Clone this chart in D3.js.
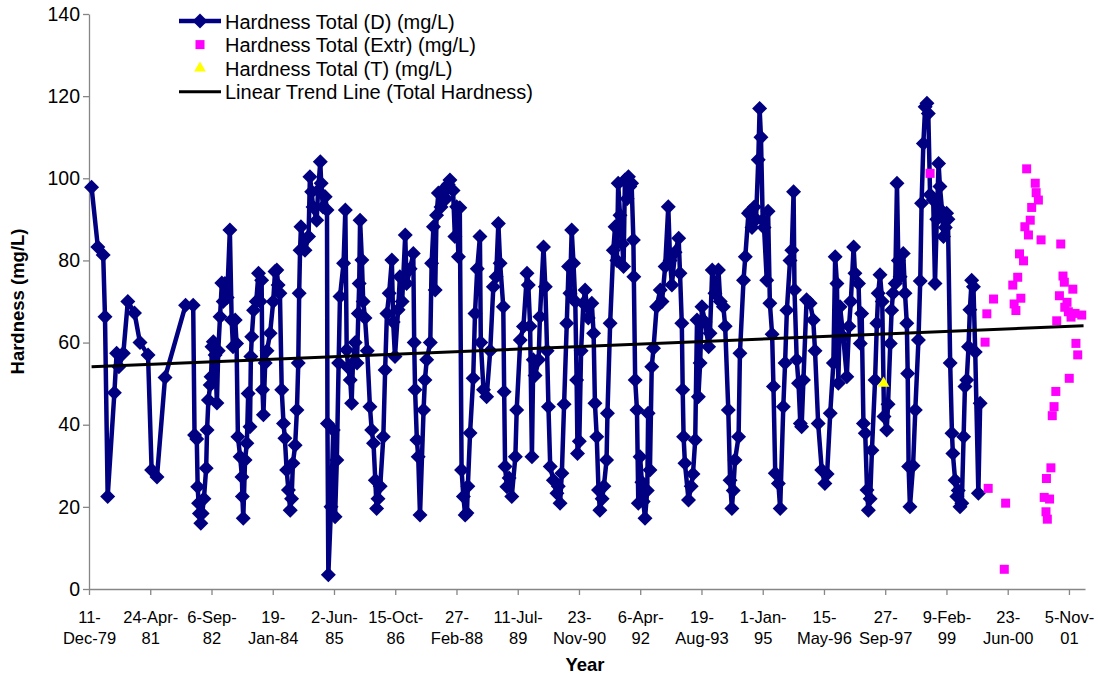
<!DOCTYPE html>
<html>
<head>
<meta charset="utf-8">
<script src="https://cdn.jsdelivr.net/npm/d3@7"></script>
<style>
  body { margin: 0; background: #fff; }
  text { font-family: "Liberation Sans", Arial, sans-serif; }
</style>
</head>
<body>
<div id="chart"></div>
<script>
// sample dates as decimal years, values in mg/L
const dYears = [
  1980.00,1980.14,1980.26,1980.30,1980.36,1980.51,1980.56,1980.61,1980.71,1980.81,1980.96,1981.08,1981.26,1981.34,1981.46,1981.64,
  1982.10,1982.27,1982.30,1982.35,1982.37,1982.39,1982.41,1982.44,1982.47,1982.51,1982.56,1982.58,1982.61,1982.65,1982.67,1982.69,
  1982.72,1982.76,1982.80,1982.83,1982.87,1982.91,1982.94,1982.98,1983.03,1983.09,1983.13,1983.16,1983.21,1983.24,1983.27,1983.32,
  1983.36,1983.37,1983.39,1983.43,1983.47,1983.50,1983.54,1983.56,1983.58,1983.62,1983.68,1983.73,1983.77,1983.80,1983.82,1983.84,
  1983.88,1983.92,1983.99,1984.06,1984.10,1984.14,1984.17,1984.21,1984.25,1984.29,1984.32,1984.36,1984.40,1984.44,1984.47,1984.50,
  1984.55,1984.59,1984.62,1984.64,1984.66,1984.68,1984.77,1984.85,1984.88,1984.92,1984.95,1985.03,1985.06,1985.11,1985.13,1985.17,
  1985.22,1985.26,1985.27,1985.29,1985.35,1985.40,1985.44,1985.48,1985.52,1985.55,1985.63,1985.67,1985.70,1985.73,1985.78,1985.81,
  1985.84,1985.89,1985.93,1985.96,1985.98,1986.00,1986.04,1986.07,1986.11,1986.16,1986.22,1986.26,1986.30,1986.34,1986.37,1986.40,
  1986.45,1986.52,1986.56,1986.60,1986.65,1986.71,1986.74,1986.78,1986.85,1986.89,1986.94,1987.01,1987.04,1987.12,1987.19,1987.21,
  1987.23,1987.27,1987.30,1987.34,1987.42,1987.45,1987.49,1987.57,1987.60,1987.64,1987.68,1987.71,1987.75,1987.81,1987.86,1987.92,
  1987.97,1988.01,1988.08,1988.12,1988.16,1988.20,1988.23,1988.27,1988.31,1988.35,1988.39,1988.41,1988.46,1988.53,1988.57,1988.62,
  1988.68,1988.70,1988.76,1988.83,1988.91,1988.98,1989.04,1989.09,1989.13,1989.20,1989.22,1989.24,1989.28,1989.33,1989.39,1989.47,
  1989.50,1989.58,1989.65,1989.73,1989.76,1989.80,1989.84,1989.87,1989.91,1989.99,1990.02,1990.10,1990.14,1990.18,1990.21,1990.25,
  1990.32,1990.40,1990.43,1990.47,1990.51,1990.56,1990.62,1990.66,1990.69,1990.73,1990.77,1990.81,1990.84,1990.86,1990.90,1990.94,
  1990.99,1991.03,1991.10,1991.18,1991.22,1991.25,1991.29,1991.33,1991.36,1991.41,1991.45,1991.51,1991.53,1991.59,1991.66,1991.70,
  1991.74,1991.77,1991.81,1991.86,1991.89,1991.92,1991.97,1992.00,1992.03,1992.07,1992.11,1992.12,1992.15,1992.19,1992.22,1992.26,
  1992.30,1992.33,1992.37,1992.42,1992.44,1992.48,1992.52,1992.56,1992.63,1992.71,1992.75,1992.82,1992.89,1992.93,1992.97,1993.04,
  1993.12,1993.15,1993.19,1993.21,1993.23,1993.26,1993.34,1993.40,1993.44,1993.49,1993.53,1993.56,1993.60,1993.64,1993.71,1993.79,
  1993.82,1993.87,1993.93,1994.01,1994.05,1994.12,1994.16,1994.23,1994.27,1994.31,1994.34,1994.38,1994.46,1994.49,1994.57,1994.61,
  1994.68,1994.72,1994.76,1994.81,1994.85,1994.90,1994.93,1994.96,1995.00,1995.03,1995.09,1995.12,1995.16,1995.21,1995.24,1995.28,
  1995.35,1995.39,1995.46,1995.50,1995.54,1995.61,1995.65,1995.69,1995.71,1995.76,1995.80,1995.84,1995.87,1995.91,1995.98,1996.06,
  1996.13,1996.17,1996.24,1996.32,1996.39,1996.44,1996.51,1996.58,1996.62,1996.66,1996.69,1996.73,1996.80,1996.88,1996.93,1996.97,
  1997.03,1997.06,1997.14,1997.18,1997.21,1997.25,1997.29,1997.33,1997.36,1997.40,1997.44,1997.51,1997.55,1997.58,1997.62,1997.67,
  1997.71,1997.77,1997.80,1997.85,1997.88,1997.91,1997.96,1998.00,1998.03,1998.07,1998.14,1998.18,1998.22,1998.24,1998.26,1998.29,
  1998.36,1998.41,1998.48,1998.52,1998.55,1998.59,1998.63,1998.67,1998.70,1998.74,1998.81,1998.85,1998.89,1998.93,1998.96,1999.01,
  1999.04,1999.08,1999.11,1999.14,1999.19,1999.23,1999.25,1999.30,1999.34,1999.37,1999.41,1999.45,1999.49,1999.52,1999.56,1999.60,
  1999.63,1999.67,1999.71,1999.75,1999.82,1999.86
];
const dValues = [
  97.8,83.3,81.3,66.3,22.5,47.8,57.4,54.1,57.4,70,67.2,60,57,29,27.3,51.5,
  69.1,69.1,37.5,36.5,24.9,20.9,18.4,16,18.4,22,29.4,38.7,46,49.7,51.7,59,
  60.2,57,45.3,58,66.3,74.5,70,74.4,71,87.4,65.5,59,65.5,59.8,37.1,32.2,
  27.3,22.5,17.2,31.4,35.5,47.6,39.5,56.6,61.4,67.9,70,76.9,70,75.2,48.5,42.4,
  55,58,62.3,70,77.3,77.7,74,72,48.5,40.3,36.7,29,24.1,19.2,22,30.6,
  35,43.6,55,72,82.5,88.2,82.5,85.8,100.4,96.7,93,89.8,97,104,98.8,93,
  95.5,92.3,40.3,3.5,20,38.7,17.6,31.4,55,71.2,79.3,92.3,58.2,54,50.9,45.2,
  55,60,55,67.1,74.4,89.8,80.1,70,66,58,44.4,38.7,35.5,26.5,19.6,22,
  25,37.1,53.3,67.1,72,80.1,65,56.6,68,76,70,86.2,74.4,78,81.7,60,
  48.5,36.3,32.2,18,43.6,50.9,55.8,60,79.3,88.2,72.8,91,96.4,93,97.2,95,
  98.5,99.6,97,85.8,93.1,80.9,92.8,29,22.5,18,18.5,25,38,51.3,67.1,78,
  85.8,60,48.5,46.8,58,73.6,76,89,79.3,68.7,48,29.8,24.9,27,22.5,32.2,
  43.6,60.6,63.9,76.9,74,64,32.2,55.8,52,55.8,66.3,83.3,73.6,58,44.4,29.8,
  26.5,23.3,25,20.9,28.2,45,64.7,78.5,72,87.4,79.3,70,50.9,33,36,58,
  69.6,72.8,66,69.6,62.3,45.2,37.1,24.1,19.2,22,25,31.4,42.8,64.7,82.5,88.2,
  80,98.8,91,84,78.5,99.6,95,100.4,98,98.8,85,76,50.9,43.6,20.9,32.2,
  26,21.3,17.2,24,42.8,29,54.1,58.6,68.7,72.8,70,78.5,93.1,80,74,82,
  85.4,76.9,64.7,48.5,37.1,30.6,21.7,25,28,36.3,65.5,46.8,55,68.7,65,59,
  62.3,77.7,72,77.7,70,68.7,64,43.6,26.5,19.6,24,31.4,37.1,57.4,75.2,80.9,
  91.5,92,88,93,90,104.5,117,110,89.8,88,75.2,92,69.6,62,49.3,28.2,
  25.7,19.6,44.4,55,67.9,80,82.5,96.7,72.8,55.8,50.1,40.3,39.5,50.9,70.4,69.6,
  65.5,58,40.3,29,25.7,28,42.8,55,80.9,74.4,50.1,68.7,61.4,51.7,64,70,
  83.3,76.9,74.4,59.8,67.1,40.3,37.9,24.1,19.2,22,33.8,50.9,64.7,72,76.5,70,
  42,38.7,45,59.8,67.9,72,74.4,98.8,80,76,81.7,72,64.7,52.5,29.8,20,
  30,43.6,60.6,75,93.9,108.5,117.4,118.3,115.8,96,94.7,74.4,90,103.6,98,92,
  85.8,88,91.5,90,55,37.9,33,26.5,22.5,24,20,20.9,37.1,49.3,50.9,59,
  68,75.2,73.6,57.7,23.3,45.2
];
const extrYears = [
  1998.74,1999.97,2000.01,2000.04,2000.16,2000.40,2000.43,2000.59,2000.62,2000.66,2000.70,2000.74,2000.77,2000.83,2000.86,2000.90,
  2000.94,2000.98,2001.01,2001.09,2001.11,2001.16,2001.22,2001.29,2001.33,2001.34,2001.36,2001.41,2001.44,2001.47,2001.51,2001.55,
  2001.57,2001.63,2001.66,2001.71,2001.74,2001.75,2001.80,2001.83,2001.85,2001.89,2001.93,2001.98,2002.00,2002.04,2002.13
];
const extrValues = [
  101.2,60.1,67,24.5,70.6,4.8,20.9,74,69.4,67.8,75.9,81.6,70.8,79.9,88.2,102.3,
  86.2,89.8,92.9,98.8,96.5,94.7,85,22.3,18.8,26.9,17,21.9,29.5,42.2,44.4,48.1,
  65.3,71.4,84,76.2,74.7,68.6,69.8,67.5,51.3,66.2,73,67.1,59.8,57,66.7
];
const tYears = [1997.70];
const tValues = [50.1];
const trendYears = [1980.00, 2002.17];
const trendValues = [54.1, 64.1];

const yTicks = [0, 20, 40, 60, 80, 100, 120, 140];
const tickLabels = [
  ["11-", "Dec-79"], ["24-Apr-", "81"], ["6-Sep-", "82"], ["19-", "Jan-84"], ["2-Jun-", "85"],
  ["15-Oct-", "86"], ["27-", "Feb-88"], ["11-Jul-", "89"], ["23-", "Nov-90"], ["6-Apr-", "92"],
  ["19-", "Aug-93"], ["1-Jan-", "95"], ["15-", "May-96"], ["27-", "Sep-97"], ["9-Feb-", "99"],
  ["23-", "Jun-00"], ["5-Nov-", "01"]
];
const legendLabels = [
  "Hardness Total (D) (mg/L)",
  "Hardness Total (Extr) (mg/L)",
  "Hardness Total (T) (mg/L)",
  "Linear Trend Line (Total Hardness)"
];

const width = 1098;
const height = 679;
const margin = { top: 14, right: 13, bottom: 90, left: 89 };
const navy = "#000080", magenta = "#ff00ff", yellow = "#ffff00", axisGrey = "#868686";

function fromYear(v) {
    const yr = Math.floor(v);
    return new Date(Date.UTC(yr, 0, 1) + (v - yr) * 365.25 * 864e5);
}
const parseTick = d3.utcParse("%d-%b-%y");
const tickDates = tickLabels.map(l => parseTick(l.join("")));

const svg = d3.select("#chart").append("svg")
    .attr("width", width)
    .attr("height", height);

const x = d3.scaleUtc()
    .domain([tickDates[0], new Date(Date.UTC(2002, 2, 16))])
    .range([margin.left, width - margin.right]);
const y = d3.scaleLinear().domain([0, 140]).range([height - margin.bottom, margin.top]);

// axes
const gX = svg.append("g").attr("transform", `translate(0,${height - margin.bottom})`)
    .call(d3.axisBottom(x).tickValues(tickDates).tickSize(6).tickSizeOuter(0).tickFormat(""));
gX.selectAll(".tick text").each(function(d, i) {
    const t = d3.select(this).text(null).attr("y", 0).attr("dy", null)
        .attr("font-size", "16.5px").attr("fill", "#000");
    tickLabels[i].forEach((s, j) => t.append("tspan").attr("x", 0).attr("y", 34 + j * 21).text(s));
});

const gY = svg.append("g").attr("transform", `translate(${margin.left},0)`)
    .call(d3.axisLeft(y).tickValues(yTicks).tickSize(6).tickSizeOuter(0).tickPadding(3));
gY.selectAll("text").attr("font-size", "19.5px").attr("fill", "#000");

svg.selectAll(".domain, .tick line").attr("stroke", axisGrey).attr("stroke-width", 1.3);

svg.append("text").attr("transform", `translate(24,${(margin.top + height - margin.bottom) / 2}) rotate(-90)`)
    .attr("text-anchor", "middle").attr("font-size", "18.5px").attr("font-weight", "bold").text("Hardness (mg/L)");
svg.append("text").attr("x", 585).attr("y", 671)
    .attr("text-anchor", "middle").attr("font-size", "18.5px").attr("font-weight", "bold").text("Year");

// series
const dData = dYears.map((v, i) => ({ date: fromYear(v), value: dValues[i] }));
const extrData = extrYears.map((v, i) => ({ date: fromYear(v), value: extrValues[i] }));
const tData = tYears.map((v, i) => ({ date: fromYear(v), value: tValues[i] }));
const trendData = trendYears.map((v, i) => ({ date: fromYear(v), value: trendValues[i] }));

const line = d3.line().x(d => x(d.date)).y(d => y(d.value));
const diamond = r => `M0,${-r}L${r},0L0,${r}L${-r},0Z`;

svg.append("path").datum(dData).attr("fill", "none").attr("stroke", navy)
    .attr("stroke-width", 4.5).attr("stroke-linejoin", "round").attr("d", line);
svg.append("g").selectAll("path").data(dData).join("path")
    .attr("transform", d => `translate(${x(d.date)},${y(d.value)})`)
    .attr("d", diamond(7.5)).attr("fill", navy);

svg.append("g").selectAll("rect").data(extrData).join("rect")
    .attr("x", d => x(d.date) - 4.5).attr("y", d => y(d.value) - 4.5)
    .attr("width", 9).attr("height", 9).attr("fill", magenta);

svg.append("g").selectAll("path").data(tData).join("path")
    .attr("transform", d => `translate(${x(d.date)},${y(d.value)})`)
    .attr("d", d3.symbol(d3.symbolTriangle, 60)).attr("fill", yellow);

svg.append("path").datum(trendData).attr("fill", "none").attr("stroke", "#000")
    .attr("stroke-width", 3).attr("d", line);

// legend
const legend = svg.append("g").attr("transform", "translate(179,0)");
const rowY = i => 28.5 + i * 23.6;
legendLabels.forEach((label, i) => {
    const cy = rowY(i) - 7.5;
    if (i === 0) {
        legend.append("line").attr("x1", 0).attr("x2", 42).attr("y1", cy).attr("y2", cy)
            .attr("stroke", navy).attr("stroke-width", 4.5);
        legend.append("path").attr("transform", `translate(21,${cy})`).attr("d", diamond(7.5)).attr("fill", navy);
    } else if (i === 1) {
        legend.append("rect").attr("x", 16.5).attr("y", cy - 4.5).attr("width", 9).attr("height", 9).attr("fill", magenta);
    } else if (i === 2) {
        legend.append("path").attr("transform", `translate(21,${cy})`)
            .attr("d", d3.symbol(d3.symbolTriangle, 60)).attr("fill", yellow);
    } else {
        legend.append("line").attr("x1", 0).attr("x2", 42).attr("y1", cy).attr("y2", cy)
            .attr("stroke", "#000").attr("stroke-width", 3);
    }
    legend.append("text").attr("x", 46).attr("y", rowY(i)).attr("font-size", "20px").text(label);
});
</script>
</body>
</html>
